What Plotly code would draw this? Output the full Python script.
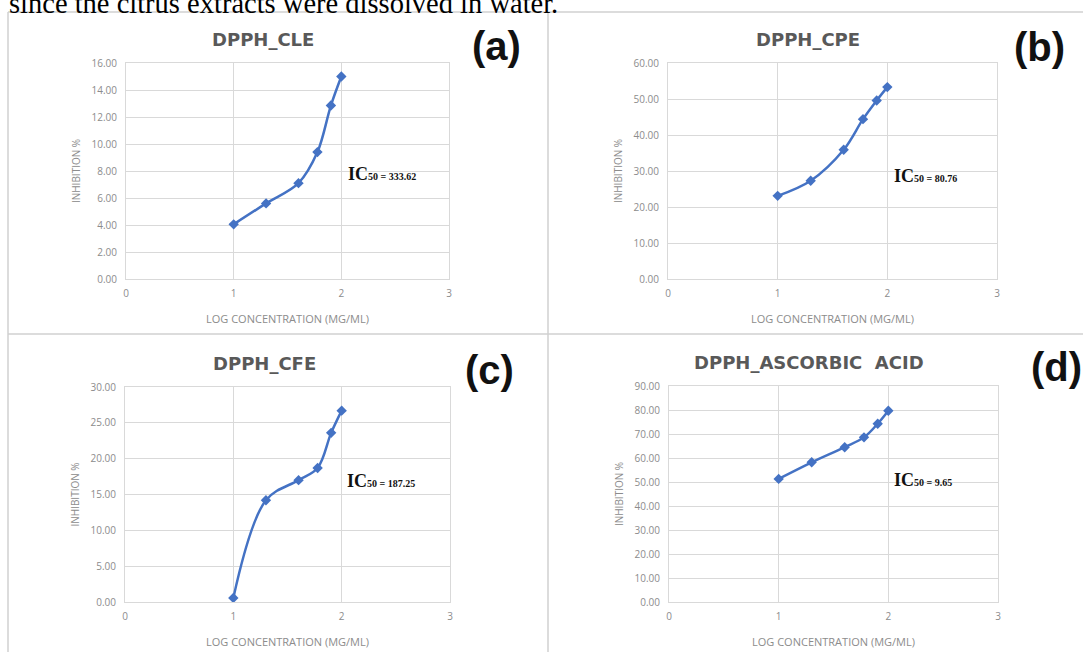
import plotly.graph_objects as go

W, H = 1083, 652

log_conc = [1.0, 1.301, 1.602, 1.778, 1.903, 2.0]
cle = [4.05, 5.6, 7.1, 9.4, 12.85, 15.0]
cpe = [23.1, 27.3, 35.9, 44.4, 49.6, 53.3]
cfe = [0.56, 14.2, 17.0, 18.7, 23.6, 26.7]
asc = [51.3, 58.2, 64.5, 68.6, 74.3, 79.7]

titles = ["DPPH_CLE", "DPPH_CPE", "DPPH_CFE", "DPPH_ASCORBIC  ACID"]
labels = ["(a)", "(b)", "(c)", "(d)"]
ic50_values = ["333.62", "80.76", "187.25", "9.65"]
y_max = [16, 60, 30, 90]
y_step = [2, 10, 5, 10]
x_ticks = [0, 1, 2, 3]
x_title = "LOG CONCENTRATION (MG/ML)"
y_title = "INHIBITION %"
caption = "since the citrus extracts were dissolved in water."

series = [cle, cpe, cfe, asc]

# pixel layout helpers
def px(x):
    return x / W

def py(y):
    return 1 - y / H

# plot boxes in pixels: (left, right, top, bottom)
boxes = [(126, 449, 63, 279), (668, 997, 63, 279), (125, 450, 387, 602), (669, 998, 386, 602)]
title_pos = [(263, 40), (808, 40), (264, 363), (809, 362)]
label_pos = [(496, 46), (1039, 47), (489, 370), (1056, 367)]
ic_pos = [(346, 186), (892, 188), (345, 493), (892, 492)]

fig = go.Figure()
annotations = []
layout = {}
blue = "#4472C4"
grid = "#D9D9D9"
tickc = "#8C8C8C"

for i in range(4):
    n = "" if i == 0 else str(i + 1)
    l, r, t, b = boxes[i]
    fig.add_trace(go.Scatter(
        x=log_conc, y=series[i], mode="lines+markers",
        line=dict(color=blue, width=2.5, shape="spline", smoothing=1.0),
        marker=dict(symbol="diamond", size=8, color=blue),
        xaxis="x" + n, yaxis="y" + n, showlegend=False, hoverinfo="x+y"))
    layout["xaxis" + n] = dict(
        domain=[px(l), px(r)], anchor="y" + n, range=[0, 3], automargin=False,
        tickvals=x_ticks, ticktext=[str(v) for v in x_ticks],
        showgrid=True, gridcolor=grid, gridwidth=1,
        showline=True, linecolor=grid, linewidth=1, mirror=True,
        zeroline=False, ticks="", ticklen=0, ticklabelstandoff=5,
        tickfont=dict(family="Open Sans", size=10, color=tickc),
        title=dict(text=x_title, font=dict(family="Open Sans", size=11, color=tickc), standoff=16),
        fixedrange=True)
    layout["yaxis" + n] = dict(
        domain=[py(b), py(t)], anchor="x" + n, range=[0, y_max[i]], automargin=False,
        dtick=y_step[i], tick0=0, tickformat=".2f",
        showgrid=True, gridcolor=grid, gridwidth=1,
        showline=True, linecolor=grid, linewidth=1, mirror=True,
        zeroline=False, ticks="", ticklen=0, ticklabelstandoff=6,
        tickfont=dict(family="Open Sans", size=10, color=tickc),
        title=dict(text=y_title, font=dict(family="Open Sans", size=10, color=tickc), standoff=9),
        fixedrange=True)
    tx, ty = title_pos[i]
    annotations.append(dict(x=px(tx), y=py(ty), xref="paper", yref="paper", text="<b>" + titles[i] + "</b>",
                            showarrow=False, xanchor="center", yanchor="middle",
                            font=dict(family="DejaVu Sans", size=18, color="#595959")))
    lx, ly = label_pos[i]
    annotations.append(dict(x=px(lx), y=py(ly), xref="paper", yref="paper", text="<b>" + labels[i] + "</b>",
                            showarrow=False, xanchor="center", yanchor="middle",
                            font=dict(family="Liberation Sans", size=40, color="#111111")))
    ix, iy = ic_pos[i]
    annotations.append(dict(x=px(ix), y=py(iy), xref="paper", yref="paper",
                            text="<b>IC<span style='font-size:10px'>50 = " + ic50_values[i] + "</span></b>",
                            showarrow=False, xanchor="left", yanchor="bottom",
                            font=dict(family="Liberation Serif", size=18, color="#111111")))

annotations.append(dict(x=px(7), y=py(21), xref="paper", yref="paper", text=caption,
                        showarrow=False, xanchor="left", yanchor="bottom",
                        font=dict(family="Liberation Serif", size=28.5, color="#000000")))

border = "#D0D0D0"
shapes = [
    dict(type="line", xref="paper", yref="paper", x0=px(8), x1=px(1083), y0=py(12), y1=py(12), line=dict(color=border, width=1.5)),
    dict(type="line", xref="paper", yref="paper", x0=px(8), x1=px(8), y0=py(12), y1=py(652), line=dict(color=border, width=1.5)),
    dict(type="line", xref="paper", yref="paper", x0=px(548), x1=px(548), y0=py(12), y1=py(652), line=dict(color=border, width=1.5)),
    dict(type="line", xref="paper", yref="paper", x0=px(8), x1=px(1083), y0=py(334), y1=py(334), line=dict(color=border, width=1.5)),
]

fig.update_layout(width=W, height=H, autosize=False, margin=dict(l=0, r=0, t=0, b=0),
                  paper_bgcolor="white", plot_bgcolor="white",
                  annotations=annotations, shapes=shapes, **layout)
fig.write_html("out.html", config={"displayModeBar": False},
               post_script="document.body.style.margin='0px';document.body.style.overflow='hidden';")
